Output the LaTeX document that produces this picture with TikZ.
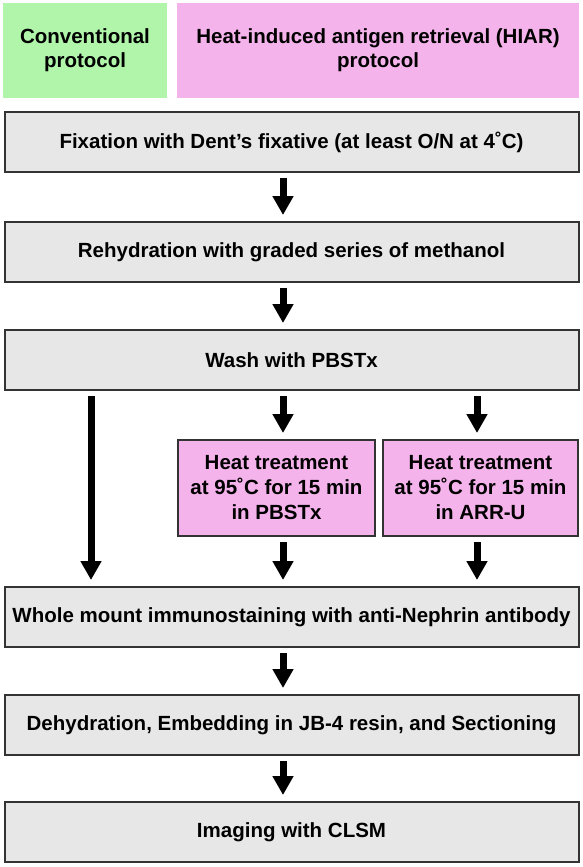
\documentclass[tikz,border=0pt]{standalone}
\usepackage{fontspec}
\setmainfont{Liberation Sans}
\usetikzlibrary{arrows.meta}
\definecolor{boxgray}{RGB}{231,231,231}
\definecolor{hdrgreen}{RGB}{176,245,170}
\definecolor{hdrpink}{RGB}{245,179,235}
\definecolor{edgegray}{RGB}{51,51,51}

\begin{document}
\begin{tikzpicture}[x=1pt, y=-1pt,
        every node/.style={font=\fontsize{20.5}{25}\selectfont\bfseries, align=center, inner sep=0pt},
        flow/.style={-{Triangle[width=20pt,length=19pt]}, line width=7pt, shorten <=5pt, shorten >=6pt}]
      \tikzstyle{header} = [minimum height=95pt, font=\fontsize{20.5}{24}\selectfont\bfseries]
      \tikzstyle{stepbox} = [draw=edgegray, line width=2pt, fill=boxgray, minimum width=574pt, minimum height=60pt]
      \tikzstyle{heat} = [draw=edgegray, line width=2pt, fill=hdrpink, minimum height=96pt]
      \useasboundingbox (0,0) rectangle (583,867);
      % headers
      \node (conv) [header, fill=hdrgreen, minimum width=164pt] at (85,50.5) {Conventional\\protocol};
      \node (hiar) [header, fill=hdrpink, minimum width=402pt] at (378,50.5) {Heat-induced antigen retrieval (HIAR)\\protocol};
      % main steps
      \node (fix) [stepbox] at (291.5,142) {Fixation with Dent's fixative (at least O/N at 4˚C)};
      \node (rehyd) [stepbox] at (291.5,252) {Rehydration with graded series of methanol};
      \node (wash) [stepbox] at (291.5,360) {Wash with PBSTx};
      \node (hp) [heat, minimum width=197pt] at (276.5,488) {Heat treatment\\at 95˚C for 15 min\\in PBSTx};
      \node (ha) [heat, minimum width=195pt] at (480.5,488) {Heat treatment\\at 95˚C for 15 min\\in ARR-U};
      \node (whole) [stepbox] at (291.5,617) {Whole mount immunostaining with anti-Nephrin antibody};
      \node (dehyd) [stepbox] at (291.5,725) {Dehydration, Embedding in JB-4 resin, and Sectioning};
      \node (imag) [stepbox] at (291.5,832) {Imaging with CLSM};
      % arrow columns
      \coordinate (leftcol) at (91,0);
      \coordinate (midcol) at (283,0);
      \coordinate (rightcol) at (477,0);
      \draw[flow] (fix.south -| midcol) -- (rehyd.north -| midcol);
      \draw[flow] (rehyd.south -| midcol) -- (wash.north -| midcol);
      \draw[flow] (wash.south -| leftcol) -- (whole.north -| leftcol);
      \draw[flow] (wash.south -| midcol) -- (hp.north -| midcol);
      \draw[flow] (wash.south -| rightcol) -- (ha.north -| rightcol);
      \draw[flow] (hp.south -| midcol) -- (whole.north -| midcol);
      \draw[flow] (ha.south -| rightcol) -- (whole.north -| rightcol);
      \draw[flow] (whole.south -| midcol) -- (dehyd.north -| midcol);
      \draw[flow] (dehyd.south -| midcol) -- (imag.north -| midcol);
\end{tikzpicture}
\end{document}
